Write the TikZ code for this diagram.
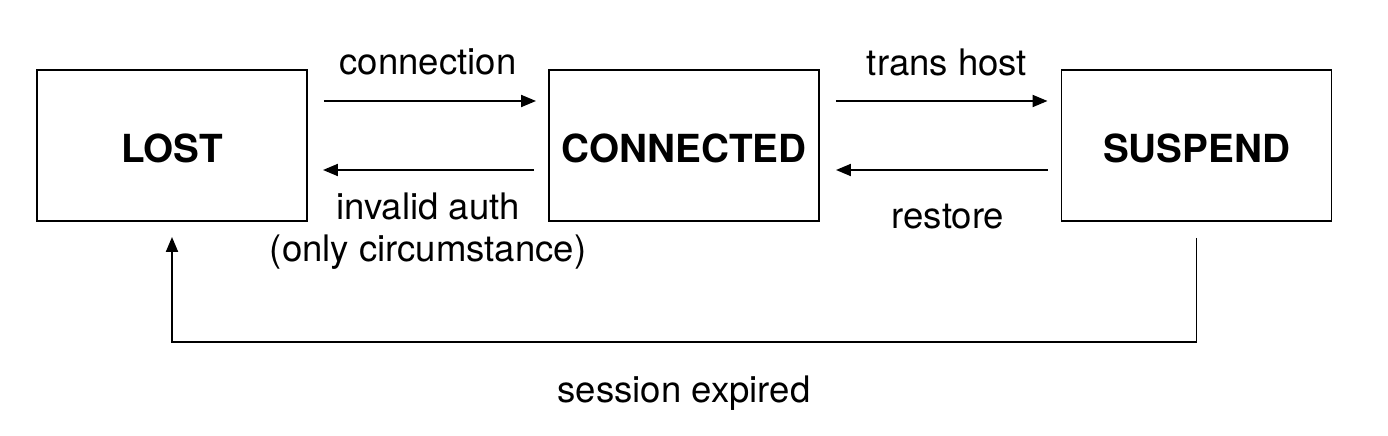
\documentclass[tikz,border=0pt]{standalone}
\usepackage{fontspec}
\setmainfont{TeX Gyre Heros}
\usetikzlibrary{positioning}
\usetikzlibrary{arrows.meta}

\tikzset{
  state/.style={draw, line width=1.1pt, minimum width=5.4cm, minimum height=3.02cm,
    text height=0.68cm, text depth=0cm,
    font=\fontsize{22}{26}\selectfont\bfseries},
  trans/.style={font=\fontsize{20.8}{24}\selectfont, align=center},
  link/.style={->, line width=1.1pt},
  >={Triangle[length=0.3cm,width=0.24cm]}
}

\begin{document}
\begin{tikzpicture}
\useasboundingbox (0,0) rectangle (27.76,8.72);

\node[state] (lost) at (3.44,5.81) {LOST};
\node[state] (conn) at (13.68,5.81) {CONNECTED};
\node[state] (susp) at (23.93,5.81) {SUSPEND};

\node[trans] (lconn) at (8.56,7.48) {connection};
\node[trans] (lauth) at (8.56,4.1) {invalid auth\\(only circumstance)};
\node[trans] (lhost) at (18.94,7.48) {trans host};
\node[trans] (lrest) at (18.96,4.38) {restore};
\node[trans] (lexp) at (13.68,0.86) {session expired};

\draw[link, shorten <=0.32cm, shorten >=0.24cm] ([yshift=0.89cm]lost.east) -- ([yshift=0.89cm]conn.west);
\draw[link, shorten <=0.28cm, shorten >=0.30cm] ([yshift=-0.49cm]conn.west) -- ([yshift=-0.49cm]lost.east);
\draw[link, shorten <=0.32cm, shorten >=0.26cm] ([yshift=0.89cm]conn.east) -- ([yshift=0.89cm]susp.west);
\draw[link, shorten <=0.26cm, shorten >=0.32cm] ([yshift=-0.49cm]susp.west) -- ([yshift=-0.49cm]conn.east);
\draw[link] ([yshift=-0.32cm]susp.south) |- (8,1.88) -| ([yshift=-0.30cm]lost.south);

\end{tikzpicture}
\end{document}
